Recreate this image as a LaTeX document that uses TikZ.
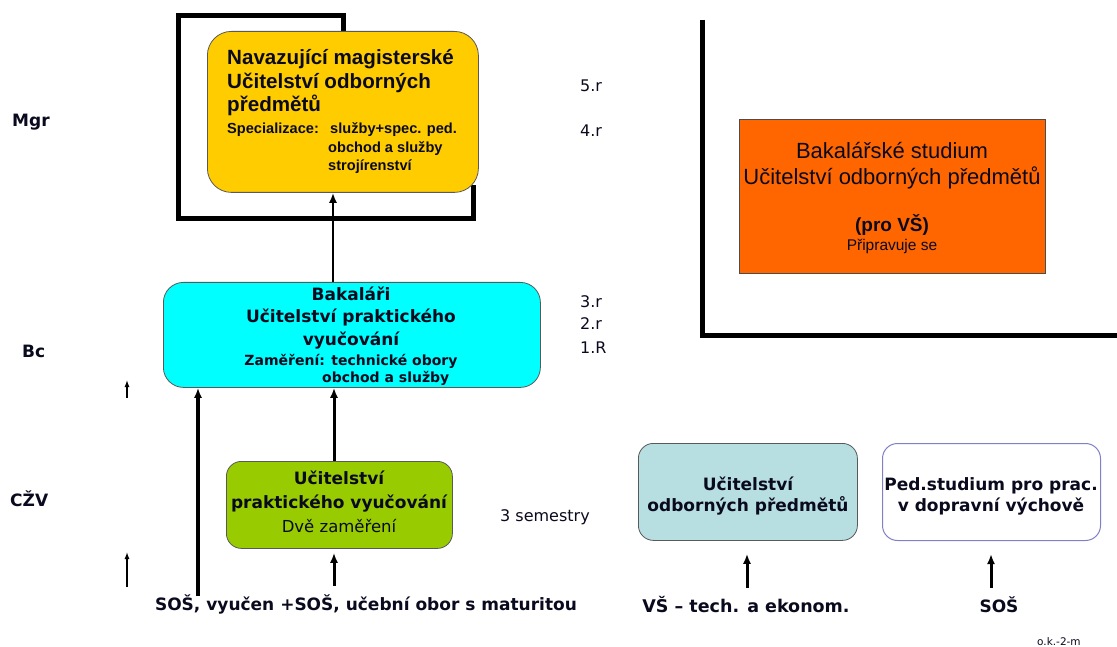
\documentclass[tikz,border=0pt]{standalone}
\usepackage{fontspec}
\setmainfont{DejaVu Sans}
\newfontfamily\arialf{Liberation Sans}
\usetikzlibrary{arrows.meta}
\definecolor{yel}{HTML}{FFCC00}
\definecolor{cyanb}{HTML}{00FFFF}
\definecolor{grn}{HTML}{99CC00}
\definecolor{org}{HTML}{FF6600}
\definecolor{tealb}{HTML}{B7DEE0}
\definecolor{purp}{HTML}{8080C8}
\definecolor{txt}{HTML}{0A0A1E}
\newcommand\myfs[1]{\fontsize{#1}{#1}\selectfont}
\begin{document}
\begin{tikzpicture}[x=1pt,y=-1pt,
  t/.style={inner sep=0,anchor=base,text=txt},
  tw/.style={t,anchor=base west},
  box/.style={draw=black!65,line width=0.8pt,inner sep=0,anchor=north west},
  frame/.style={line width=5pt,line join=miter},
  arr/.style={line width=2.6pt,-{Latex[length=10pt,width=8pt]}},
  arrthin/.style={line width=1.3pt,-{Latex[length=7pt,width=5pt]}},
  big/.style={font=\bfseries\myfs{17}},
  reg/.style={font=\myfs{16}},
  ab/.style={font=\arialf\bfseries\myfs{20.6}},
  as/.style={font=\arialf\bfseries\myfs{14.6}}]
\useasboundingbox (0,0) rectangle (1117,647);
\fill[white] (0,0) rectangle (1117,647);

% frame behind master box
\draw[frame] (343,35) -- (343,16) -- (178,16) -- (178,219) -- (473,219) -- (473,185);

% master box
\node[box,fill=yel,rounded corners=24pt,minimum width=271pt,minimum height=161pt] (mgr) at (207,31) {};
\node[tw,ab] (m1) at (227,65) {Navazující magisterské};
\node[tw,ab] (m2) at (227,89) {Učitelství odborných};
\node[tw,ab] (m3) at (227,112) {předmětů};
\node[tw,as] (m4) at (227,134) {Specializace:};
\node[tw,as] (m5) at (330,134) {služby+spec. ped.};
\node[tw,as] (m6) at (328,153) {obchod a služby};
\node[tw,as] (m7) at (328,171) {strojírenství};

% bachelor box
\node[box,fill=cyanb,rounded corners=20pt,minimum width=377pt,minimum height=105pt] (bc) at (163,282) {};
\node[t,big] (b1) at (351,301) {Bakaláři};
\node[t,big] (b2) at (351,323) {Učitelství praktického};
\node[t,big] (b3) at (351,345) {vyučování};
\node[t,font=\bfseries\myfs{14}] (b4) at (351,365) {Zaměření: technické obory};
\node[tw,font=\bfseries\myfs{14}] (b5) at (322,382) {obchod a služby};

% CZV box
\node[box,fill=grn,rounded corners=15pt,minimum width=226pt,minimum height=87pt] (czv) at (226,461) {};
\node[t,big] (g1) at (339,484) {Učitelství};
\node[t,big] (g2) at (339,508) {praktického vyučování};
\node[t,font=\myfs{16.5}] (g3) at (339,532) {Dvě zaměření};

% right lower boxes
\node[box,fill=tealb,rounded corners=15pt,minimum width=219pt,minimum height=97pt] (ob) at (638,443) {};
\node[t,big] (o1) at (748,490) {Učitelství};
\node[t,big] (o2) at (748,511) {odborných předmětů};
\node[box,draw=purp,line width=1pt,fill=white,rounded corners=15pt,minimum width=218pt,minimum height=97pt] (ped) at (882,443) {};
\node[t,big] (p1) at (991,490) {Ped.studium pro prac.};
\node[t,big] (p2) at (991,511) {v dopravní výchově};

% orange box and L-frame
\draw[frame] (702,20) -- (702,335) -- (1117,335);
\node[draw=black!70,line width=0.8pt,fill=org,inner sep=0,anchor=north west,minimum width=306pt,minimum height=154pt] (orgb) at (739,119) {};
\node[t,font=\arialf\myfs{22}] (r1) at (892,159) {Bakalářské studium};
\node[t,font=\arialf\myfs{22}] (r2) at (892,185) {Učitelství odborných předmětů};
\node[t,font=\arialf\bfseries\myfs{19}] (r3) at (892,232) {(pro VŠ)};
\node[t,font=\arialf\myfs{15.5}] (r4) at (892,251) {Připravuje se};

% level labels
\node[tw,big] (lm) at (12,127) {Mgr};
\node[tw,big] (lb) at (22,357) {Bc};
\node[tw,big] (lc) at (10,506) {CŽV};

% year labels
\node[tw,reg] (y5) at (580,92) {5.r};
\node[tw,reg] (y4) at (580,137) {4.r};
\node[tw,reg] (y3) at (580,307) {3.r};
\node[tw,reg] (y2) at (580,329) {2.r};
\node[tw,reg] (y1) at (580,353) {1.R};
\node[t,reg] (sem) at (545,521) {3 semestry};

% sources
\node[t,big] (src1) at (366,610) {SOŠ, vyučen +SOŠ, učební obor s maturitou};
\node[t,font=\bfseries\myfs{17.5}] (src2) at (746,612) {VŠ – tech. a ekonom.};
\node[t,big] (src3) at (999,612) {SOŠ};
\node[tw,font=\myfs{10.5}] (ok) at (1037,645) {o.k.-2-m};

% x positions
\coordinate (xA) at (333,0);
\coordinate (xB) at (334,0);
\coordinate (xL) at (198,0);
\coordinate (xO) at (747,0);
\coordinate (xP) at (991,0);

% connectors
\draw[arr] (bc.north -| xA) -- (mgr.south -| xA);
\draw[arr,line width=3pt] (czv.north -| xB) -- (bc.south -| xB);
\draw[arr,line width=3pt] ([yshift=8pt]src1.north -| xB) -- ([yshift=-4pt]czv.south -| xB);
\draw[arr,line width=4pt] ([yshift=-2pt]src1.north -| xL) -- (bc.south -| xL);
\draw[arr,line width=3pt] ([yshift=8pt]src2.north -| xO) -- ([yshift=-13pt]ob.south -| xO);
\draw[arr,line width=3pt] ([yshift=8pt]src3.north -| xP) -- ([yshift=-13pt]ped.south -| xP);

\coordinate (s1a) at (127,398);
\coordinate (s1b) at (127,380);
\coordinate (s2a) at (127,587);
\coordinate (s2b) at (127,552);
\draw[arrthin] (s1a) -- (s1b);
\draw[arrthin] (s2a) -- (s2b);
\end{tikzpicture}
\end{document}
